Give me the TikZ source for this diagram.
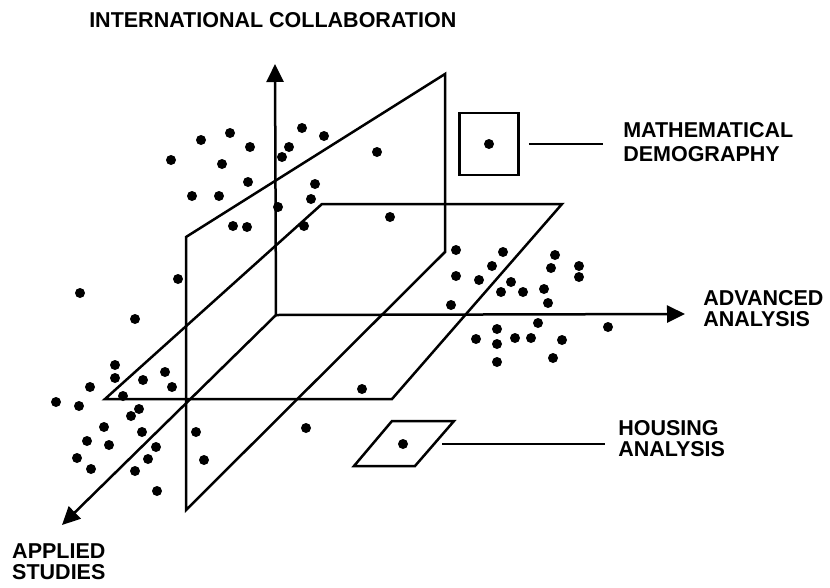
\documentclass[tikz,border=0pt]{standalone}
\usepackage{fontspec}
\setsansfont{Liberation Sans}
\usetikzlibrary{arrows.meta,positioning}

\begin{document}
\begin{tikzpicture}[x=1pt,y=-1pt,line width=2.5pt,>={Triangle[length=18pt,width=17pt]},
  lbl/.style={font=\sffamily\bfseries\fontsize{21.5}{21}\selectfont,align=left,inner sep=0pt},
  dot/.style={circle,fill,inner sep=0pt,minimum size=10pt}]
\useasboundingbox (0,0) rectangle (830,587);
\coordinate (o) at (276,315);
\coordinate (ictip) at (275,64);
\coordinate (aatip) at (685,314);
\coordinate (astip) at (62,525);
\draw (186,237) -- (445,74) -- (445,252) -- (186,510) -- cycle;
\draw (105,399) -- (322,204) -- (562,204) -- (392,399) -- cycle;
\draw[->] (o) -- (ictip);
\draw[->] (o) -- (aatip);
\draw[->] (o) -- (astip);
\node[lbl,anchor=base west] (iclbl) at (88,27) {INTERNATIONAL COLLABORATION};
\node[lbl,anchor=west] (aalbl) at (702,309) {ADVANCED\\ANALYSIS};
\node[lbl,anchor=west] (aslbl) at (11,562) {APPLIED\\STUDIES};
\foreach \x/\y in {171/160,201/140,230/133,250/147,222/164,302/128,324/136,289/147,282/157,377/152,
  315/184,248/182,192/196,219/196,311/199,278/207,233/226,247/227,304/226,390/217,
  456/250,503/252,492/266,456/276,479/280,511/282,501/292,523/292,555/255,551/268,579/266,579/277,
  544/289,548/303,451/305,538/323,608/327,497/329,476/339,497/344,515/338,531/338,562/340,497/362,553/358,
  178/279,80/293,135/319,115/365,115/378,165/372,143/380,172/387,90/387,123/396,56/402,79/406,
  139/409,131/416,104/427,142/432,196/432,87/441,109/445,156/447,77/458,148/459,204/460,91/469,
  135/471,157/491,362/389,306/428}
  \fill (\x,\y) circle[radius=5pt];
\node[draw,minimum width=59pt,minimum height=62pt,inner sep=0pt] (mdbox) at (489,144) {};
\node[dot] (mddot) at (mdbox) {};
\node[lbl,anchor=west,font=\sffamily\bfseries\fontsize{21.5}{24}\selectfont] (mdlbl) at (622,142) {MATHEMATICAL\\DEMOGRAPHY};
\draw[shorten <=9pt,shorten >=19pt] (mdbox.east) -- (mdbox.east -| mdlbl.west);
\draw (392,421) -- (454,421) -- (415,466) -- (354,466) -- cycle;
\node[dot] (hsdot) at (403,444) {};
\coordinate (hsedge) at (434,444);
\node[lbl,anchor=west] (hslbl) at (617,439) {HOUSING\\ANALYSIS};
\draw[shorten <=8pt,shorten >=12pt] (hsedge) -- (hsedge -| hslbl.west);
\end{tikzpicture}
\end{document}
